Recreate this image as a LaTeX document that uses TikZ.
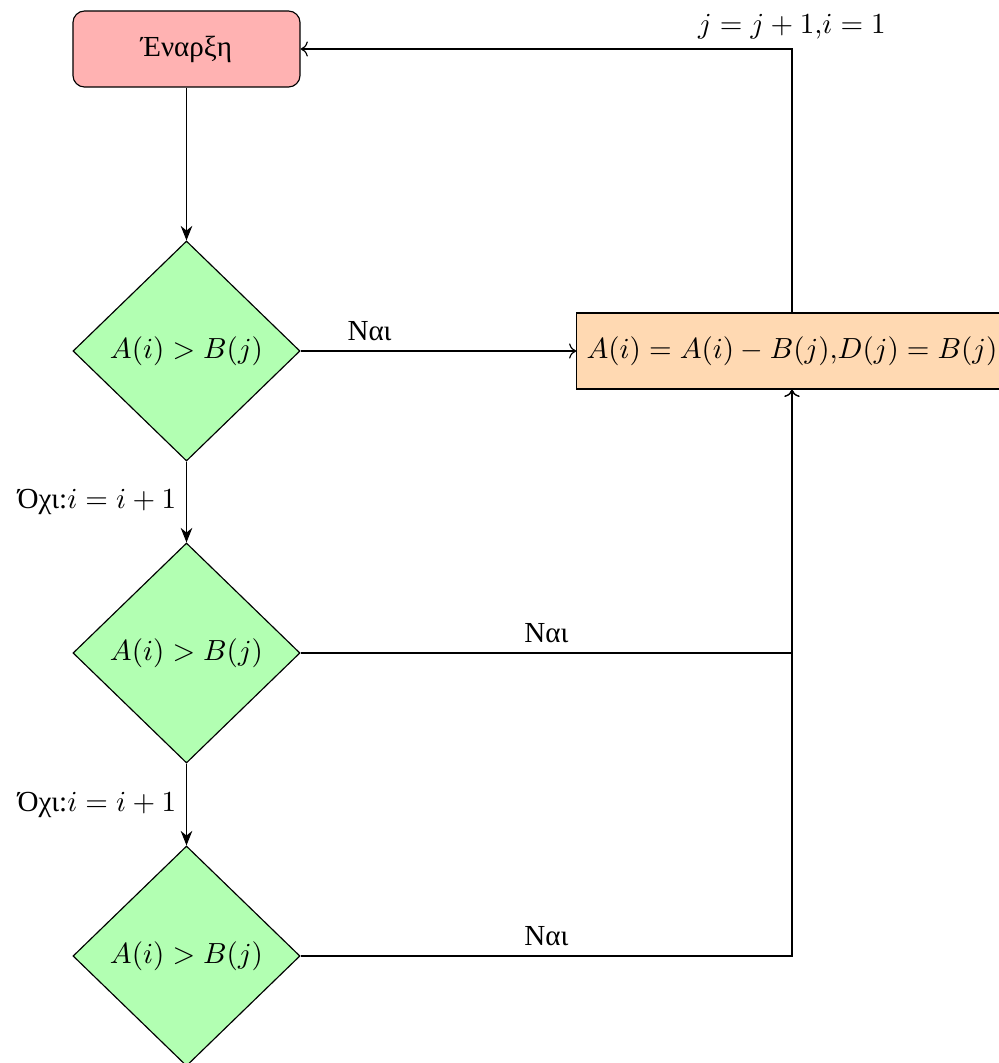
\documentclass[tikz,border=0pt]{standalone}
\usepackage{fontspec}
\newfontfamily\gr{Liberation Serif}
\usetikzlibrary{shapes.geometric,arrows.meta}
\begin{document}
\begin{tikzpicture}[x=0.01209cm,y=-0.01209cm,
  startbox/.style={rectangle,rounded corners=4pt,draw,fill=red!30,minimum width=2.744cm,minimum height=0.919cm},
  dec/.style={diamond,draw,fill=green!30,minimum width=2.744cm,minimum height=2.659cm,inner sep=0pt},
  procbox/.style={rectangle,draw,fill=orange!30,minimum height=0.919cm},
  solidarrow/.style={-{Stealth[length=5pt,width=4pt]}},
  openarrow/.style={->}]
\useasboundingbox (0,0) rectangle (999,1063);
\node[startbox] (start) at (186.5,49) {\gr Έναρξη};
\node[dec] (d1) at (186.5,351) {$A(i)>B(j)$};
\node[dec] (d2) at (186.5,653) {$A(i)>B(j)$};
\node[dec] (d3) at (186.5,956) {$A(i)>B(j)$};
\node[procbox] (p) at (792,351) {$A(i)=A(i)-B(j)$,$D(j)=B(j)$};
\draw[solidarrow] (start) -- (d1);
\draw[openarrow] (d1) -- node[above,pos=0.25]{\gr Ναι} (p);
\draw[solidarrow] (d1) -- node[left]{\gr Όχι:$i=i+1$} (d2);
\draw[solidarrow] (d2) -- node[left]{\gr Όχι:$i=i+1$} (d3);
\draw[openarrow] (d2.east) -- node[above]{\gr Ναι} (d2.east -| p.south) -- (p.south);
\draw[openarrow] (d3.east) -- node[above]{\gr Ναι} (d3.east -| p.south) -- (p.south);
\draw[openarrow] (p.north) -- (p.north |- start.east) node[above]{$j=j+1$,$i=1$} -- (start.east);
\end{tikzpicture}
\end{document}
